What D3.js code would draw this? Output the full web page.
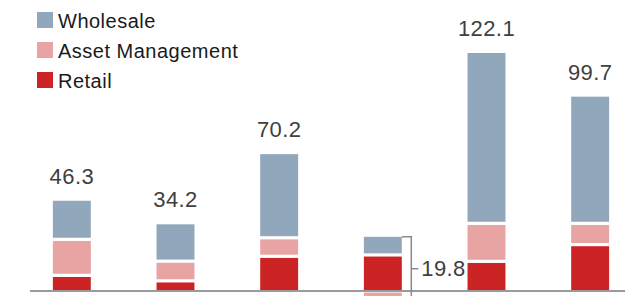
<!DOCTYPE html>
<html>
<head>
<meta charset="utf-8">
<script src="https://cdn.jsdelivr.net/npm/d3@7"></script>
<style>
  body { margin: 0; background: #fff; }
  svg { display: block; font-family: "Liberation Sans", Arial, sans-serif; }
</style>
</head>
<body>
<svg id="chart" width="625" height="296"></svg>
<script>
// values
var periods   = ["P1", "P2", "P3", "P4", "P5", "P6"];
var retail    = [8.0, 5.2, 17.8, 18.5, 15.2, 23.8];
var assetMgmt = [18.5, 10.1, 9.5, -8.0, 19.5, 10.9];
var wholesale = [19.8, 18.9, 42.9, 9.3, 87.4, 65.0];
var totals    = [46.3, 34.2, 70.2, 19.8, 122.1, 99.7];
var totalLabels = ["46.3", "34.2", "70.2", "19.8", "122.1", "99.7"];

var seriesNames  = ["Retail", "Asset Management", "Wholesale"];
var seriesColors = ["#cc2424", "#e8a4a3", "#91a7bb"];

var svg = d3.select("#chart");

// table for the stack
var rows = periods.map(function(p, i) {
    return { period: p, "Retail": retail[i], "Asset Management": assetMgmt[i], "Wholesale": wholesale[i] };
});

var stack = d3.stack()
    .keys(seriesNames)
    .offset(d3.stackOffsetDiverging);
var layers = stack(rows);

var x = d3.scaleBand()
    .domain(periods)
    .range([20, 642])
    .paddingInner(0.634)
    .paddingOuter(0.317);

var y = d3.scaleLinear()
    .domain([0, 122.1])
    .range([291, 53]);

var gap = 1.6; // white separator half-width

// bars
layers.forEach(function(layer, li) {
    svg.append("g")
        .attr("fill", seriesColors[li])
        .selectAll("rect")
        .data(layer)
        .join("rect")
        .attr("x", function(d) { return x(d.data.period); })
        .attr("width", x.bandwidth())
        .attr("y", function(d) {
            var top = y(Math.max(d[0], d[1]));
            return d[1] > 0 && li === 2 ? top : top + gap;
        })
        .attr("height", function(d) {
            var top = y(Math.max(d[0], d[1]));
            var bot = y(Math.min(d[0], d[1]));
            var t = d[1] > 0 && li === 2 ? top : top + gap;
            var b = bot - gap;
            if (d[0] === 0 && d[1] > 0) b = bot; // sits on the axis
            return Math.max(0, b - t);
        });
});

// axis line
svg.append("line")
    .attr("x1", 30).attr("x2", 625)
    .attr("y1", y(0)).attr("y2", y(0))
    .attr("stroke", "#9a9a9a")
    .attr("stroke-width", 2);

// total labels above bars (except the one with a negative part)
svg.append("g")
    .selectAll("text")
    .data(periods.filter(function(p, i) { return assetMgmt[i] >= 0; }))
    .join("text")
    .attr("x", function(p) { return x(p) + x.bandwidth() / 2; })
    .attr("y", function(p) { return y(totals[periods.indexOf(p)]) - 17; })
    .attr("text-anchor", "middle")
    .attr("font-size", 22)
    .attr("letter-spacing", 0.4)
    .attr("fill", "#404040")
    .text(function(p) { return totalLabels[periods.indexOf(p)]; });

// bracket for the bar with a negative segment
periods.forEach(function(p, i) {
    if (assetMgmt[i] >= 0) return;
    var posTop = retail[i] + wholesale[i];
    var xr = x(p) + x.bandwidth();
    var bx = xr + 9.5;
    var yt = y(posTop), yb = y(assetMgmt[i]);
    var ym = y((posTop + assetMgmt[i]) / 2) - 3;
    svg.append("path")
        .attr("d", "M" + xr + "," + yt + "H" + bx + "V" + yb)
        .attr("fill", "none")
        .attr("stroke", "#8a8a8a")
        .attr("stroke-width", 1.5);
    svg.append("line")
        .attr("x1", bx).attr("x2", bx + 7)
        .attr("y1", ym).attr("y2", ym)
        .attr("stroke", "#8a8a8a")
        .attr("stroke-width", 1.5);
    svg.append("text")
        .attr("x", bx + 10)
        .attr("y", ym + 7)
        .attr("font-size", 22)
        .attr("letter-spacing", 0.4)
        .attr("fill", "#404040")
        .text(totalLabels[i]);
});

// legend
var legendOrder = ["Wholesale", "Asset Management", "Retail"];
var legend = svg.append("g")
    .selectAll("g")
    .data(legendOrder)
    .join("g")
    .attr("transform", function(d, i) { return "translate(37," + (12 + i * 30) + ")"; });

legend.append("rect")
    .attr("width", 16).attr("height", 16)
    .attr("fill", function(d) { return seriesColors[seriesNames.indexOf(d)]; });

legend.append("text")
    .attr("x", 21)
    .attr("y", 16)
    .attr("font-size", 20)
    .attr("letter-spacing", 0.5)
    .attr("fill", "#1a1a1a")
    .text(function(d) { return d; });
</script>
</body>
</html>
